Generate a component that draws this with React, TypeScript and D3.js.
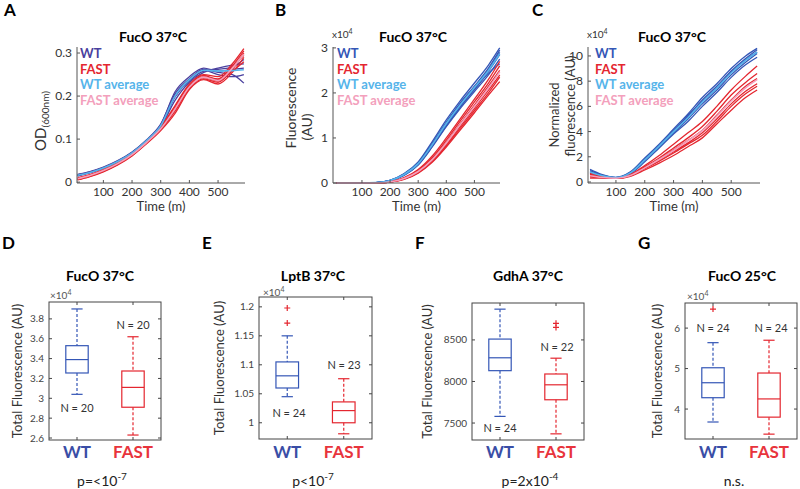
import React from 'react';
import * as d3 from 'd3';

// ---------- data: growth / fluorescence curves (panels A-C) ----------
const timePoints = [10, 50, 100, 150, 200, 250, 300, 350, 400, 450, 500, 550, 590];

// A: OD600
const odWT = [
  [0.016, 0.022, 0.033, 0.048, 0.068, 0.095, 0.130, 0.200, 0.235, 0.258, 0.262, 0.268, 0.285],
  [0.018, 0.024, 0.035, 0.050, 0.070, 0.098, 0.135, 0.205, 0.240, 0.262, 0.255, 0.250, 0.230],
  [0.014, 0.021, 0.032, 0.047, 0.067, 0.094, 0.128, 0.190, 0.232, 0.255, 0.265, 0.272, 0.275],
  [0.017, 0.023, 0.034, 0.049, 0.069, 0.097, 0.133, 0.210, 0.245, 0.265, 0.258, 0.262, 0.265],
  [0.015, 0.022, 0.033, 0.048, 0.068, 0.096, 0.131, 0.198, 0.238, 0.260, 0.250, 0.245, 0.250],
];
const odFAST = [
  [0.008, 0.015, 0.027, 0.043, 0.064, 0.092, 0.125, 0.170, 0.222, 0.245, 0.240, 0.270, 0.305],
  [0.006, 0.013, 0.025, 0.041, 0.062, 0.090, 0.122, 0.165, 0.218, 0.240, 0.232, 0.262, 0.300],
  [0.010, 0.017, 0.029, 0.045, 0.066, 0.094, 0.128, 0.178, 0.228, 0.250, 0.245, 0.275, 0.310],
  [0.005, 0.012, 0.024, 0.040, 0.061, 0.089, 0.120, 0.160, 0.215, 0.238, 0.228, 0.255, 0.290],
  [0.009, 0.016, 0.028, 0.044, 0.065, 0.093, 0.126, 0.175, 0.225, 0.248, 0.238, 0.268, 0.295],
  [0.007, 0.014, 0.026, 0.042, 0.063, 0.091, 0.124, 0.168, 0.220, 0.243, 0.235, 0.258, 0.280],
];
const odWTavg = [0.016, 0.022, 0.033, 0.048, 0.068, 0.096, 0.131, 0.200, 0.238, 0.260, 0.258, 0.259, 0.261];
const odFASTavg = [0.008, 0.015, 0.027, 0.043, 0.064, 0.092, 0.124, 0.170, 0.221, 0.244, 0.236, 0.265, 0.297];

// B: fluorescence (x10^4)
const flWT = [
  [0, 0, 0, 0.01, 0.06, 0.20, 0.45, 0.88, 1.35, 1.78, 2.15, 2.55, 2.95],
  [0, 0, 0, 0.01, 0.05, 0.18, 0.42, 0.84, 1.30, 1.72, 2.10, 2.48, 2.85],
  [0, 0, 0, 0.01, 0.06, 0.21, 0.47, 0.92, 1.40, 1.83, 2.22, 2.62, 3.00],
  [0, 0, 0, 0.01, 0.05, 0.17, 0.40, 0.80, 1.25, 1.66, 2.03, 2.40, 2.75],
  [0, 0, 0, 0.01, 0.06, 0.19, 0.44, 0.86, 1.33, 1.76, 2.13, 2.52, 2.90],
  [0, 0, 0, 0.01, 0.05, 0.18, 0.41, 0.82, 1.27, 1.69, 2.07, 2.44, 2.65],
];
const flFAST = [
  [0, 0, 0, 0, 0.03, 0.11, 0.28, 0.56, 0.95, 1.38, 1.80, 2.22, 2.60],
  [0, 0, 0, 0, 0.02, 0.09, 0.24, 0.50, 0.86, 1.26, 1.66, 2.06, 2.40],
  [0, 0, 0, 0, 0.02, 0.08, 0.22, 0.46, 0.80, 1.18, 1.56, 1.95, 2.25],
  [0, 0, 0, 0, 0.03, 0.12, 0.30, 0.60, 1.00, 1.43, 1.86, 2.30, 2.70],
  [0, 0, 0, 0, 0.02, 0.10, 0.26, 0.53, 0.90, 1.32, 1.73, 2.15, 2.50],
  [0, 0, 0, 0, 0.02, 0.09, 0.23, 0.48, 0.83, 1.22, 1.61, 2.00, 2.35],
];
const flWTavg = [0, 0, 0, 0.01, 0.055, 0.19, 0.43, 0.85, 1.32, 1.74, 2.12, 2.50, 2.87];
const flFASTavg = [0, 0, 0, 0, 0.023, 0.10, 0.255, 0.52, 0.89, 1.30, 1.70, 2.11, 2.47];

// C: normalized fluorescence (x10^4)
const nfWT = [
  [0.9, 0.55, 0.35, 0.75, 1.8, 2.9, 4.1, 5.2, 6.5, 7.6, 8.8, 9.8, 10.5],
  [0.7, 0.5, 0.35, 0.7, 1.7, 2.8, 3.9, 5.0, 6.2, 7.3, 8.5, 9.5, 10.2],
  [1.0, 0.6, 0.36, 0.8, 1.9, 3.0, 4.2, 5.4, 6.7, 7.8, 9.0, 10.0, 10.6],
  [0.6, 0.45, 0.34, 0.65, 1.6, 2.7, 3.8, 4.8, 6.0, 7.1, 8.3, 9.3, 9.9],
  [0.8, 0.52, 0.35, 0.72, 1.75, 2.85, 4.0, 5.3, 6.4, 7.5, 8.7, 9.7, 10.3],
];
const nfFAST = [
  [0.6, 0.4, 0.3, 0.55, 1.2, 1.9, 2.7, 3.5, 4.4, 5.6, 6.9, 7.9, 8.6],
  [0.4, 0.35, 0.3, 0.5, 1.1, 1.7, 2.4, 3.1, 3.9, 5.0, 6.2, 7.2, 7.8],
  [0.7, 0.45, 0.32, 0.6, 1.3, 2.1, 3.0, 3.9, 4.8, 6.0, 7.3, 8.4, 9.2],
  [0.3, 0.3, 0.28, 0.45, 0.95, 1.5, 2.1, 2.8, 3.5, 4.6, 5.7, 6.7, 7.3],
  [0.5, 0.38, 0.3, 0.52, 1.15, 1.8, 2.55, 3.3, 4.1, 5.3, 6.5, 7.6, 8.2],
  [0.45, 0.36, 0.29, 0.5, 1.05, 1.65, 2.3, 3.0, 3.7, 4.8, 6.0, 7.0, 7.6],
];
const nfWTavg = [0.8, 0.52, 0.35, 0.72, 1.75, 2.85, 4.0, 5.1, 6.35, 7.45, 8.65, 9.65, 10.3];
const nfFASTavg = [0.5, 0.37, 0.3, 0.52, 1.12, 1.78, 2.5, 3.27, 4.07, 5.22, 6.43, 7.47, 8.12];

const timeTicks = [100, 200, 300, 400, 500];

// ---------- data: box plots (panels D-G), [low whisker, q1, median, q3, high whisker] ----------
const groups = ['WT', 'FAST'];
const fucO37WT = [3.04, 3.255, 3.39, 3.53, 3.90];
const fucO37FAST = [2.63, 2.91, 3.11, 3.275, 3.62];
const lptBWT = [1.045, 1.06, 1.081, 1.105, 1.15];
const lptBFAST = [0.981, 1.0, 1.021, 1.036, 1.076];
const lptBWTout = [1.172, 1.198];
const gdhAWT = [7580, 8130, 8285, 8510, 8870];
const gdhAFAST = [7370, 7780, 7960, 8090, 8280];
const gdhAFASTout = [8650, 8700];
const fucO25WT = [3.68, 4.28, 4.65, 5.02, 5.64];
const fucO25FAST = [3.38, 3.80, 4.25, 4.89, 5.70];
const fucO25WTout = [6.47];

const FONT = "Lato, 'Open Sans', sans-serif";
const WT_COLOR = '#3456b6';
const WT_A_COLOR = '#4a3f9e';
const FAST_COLOR = '#e4262f';
const WT_AVG = '#56b4ea';
const FAST_AVG = '#f3a0bc';
const WT_LABEL = '#3a4ea6';
const FAST_LABEL = '#e8343c';

const TOP = 47;
const BOTTOM = 183;

type LineProps = {
  letter: string; letterX: number; title: string; titleX: number;
  left: number; right: number; xDomain: [number, number]; yDomain: [number, number];
  yTicks: number[]; wt: number[][]; fast: number[][]; wtAvg: number[]; fastAvg: number[];
  wtColor: string; legendX: number; exp?: boolean; yLabel: React.ReactNode;
};

function LinePanel(p: LineProps) {
  const x = d3.scaleLinear().domain(p.xDomain).range([p.left, p.right]);
  const y = d3.scaleLinear().domain(p.yDomain).range([BOTTOM, TOP]);
  const line = d3.line<number>()
    .x((_, i) => x(timePoints[i]))
    .y((d) => y(d))
    .curve(d3.curveMonotoneX);
  const legend = [
    ['WT', p.wtColor], ['FAST', FAST_COLOR], ['WT average', WT_AVG], ['FAST average', FAST_AVG],
  ];
  return (
    <g fontFamily={FONT}>
      <text x={p.letterX} y={16} fontSize={17} fontWeight="bold">{p.letter}</text>
      <text x={p.titleX} y={42} fontSize={14} fontWeight="bold" textAnchor="middle">{p.title}</text>
      {p.exp && (
        <text x={p.left - 1} y={38} fontSize={10} fill="#333">x10<tspan dy={-4} fontSize={7}>4</tspan></text>
      )}
      {p.wt.map((c, i) => (
        <path key={'w' + i} d={line(c) ?? ''} fill="none" stroke={p.wtColor} strokeWidth={1.3} />
      ))}
      {p.fast.map((c, i) => (
        <path key={'f' + i} d={line(c) ?? ''} fill="none" stroke={FAST_COLOR} strokeWidth={1.3} />
      ))}
      <path d={line(p.wtAvg) ?? ''} fill="none" stroke={WT_AVG} strokeWidth={1.6} />
      <path d={line(p.fastAvg) ?? ''} fill="none" stroke={FAST_AVG} strokeWidth={1.6} />
      {/* axes */}
      <line x1={p.left} x2={p.left} y1={TOP} y2={BOTTOM} stroke="#555" />
      <line x1={p.left} x2={p.right} y1={BOTTOM} y2={BOTTOM} stroke="#555" />
      {p.yTicks.map((t) => (
        <g key={'y' + t}>
          <line x1={p.left} x2={p.left + 3} y1={y(t)} y2={y(t)} stroke="#555" />
          <text x={p.left - 5} y={y(t) + 4} fontSize={12} textAnchor="end" fill="#333">{String(t)}</text>
        </g>
      ))}
      {timeTicks.map((t) => (
        <g key={'x' + t}>
          <line x1={x(t)} x2={x(t)} y1={BOTTOM} y2={BOTTOM - 3} stroke="#555" />
          <text x={x(t)} y={196} fontSize={12} textAnchor="middle" fill="#333">{t}</text>
        </g>
      ))}
      <text x={(p.left + p.right) / 2} y={211} fontSize={13} textAnchor="middle" fill="#333">Time (m)</text>
      {p.yLabel}
      {legend.map(([name, color], i) => (
        <text key={name} x={p.legendX} y={58 + i * 15.5} fontSize={13} fontWeight="bold" fill={color}>{name}</text>
      ))}
    </g>
  );
}

type BoxProps = {
  letter: string; letterX: number; title: string; titleX: number;
  l: number; r: number; t: number; b: number; yDomain: [number, number]; yTicks: number[];
  stats: number[][]; outliers: number[][]; nLabels: [number, number, string][];
  pX: number; pText: React.ReactNode; expX?: number; expY?: number; yLabelX: number;
};

function BoxPanel(p: BoxProps) {
  const x = d3.scaleLinear().domain([0.5, 2.5]).range([p.l, p.r]);
  const y = d3.scaleLinear().domain(p.yDomain).range([p.b, p.t]);
  const colors = [WT_COLOR, FAST_COLOR];
  const half = 0.2;
  const cap = 0.1;
  return (
    <g fontFamily={FONT}>
      <text x={p.letterX} y={249} fontSize={17} fontWeight="bold">{p.letter}</text>
      <text x={p.titleX} y={281} fontSize={14} fontWeight="bold" textAnchor="middle">{p.title}</text>
      {p.expX !== undefined && (
        <text x={p.expX} y={p.expY} fontSize={10} fill="#555">×10<tspan dy={-4} fontSize={7}>4</tspan></text>
      )}
      <rect x={p.l} y={p.t} width={p.r - p.l} height={p.b - p.t} fill="none" stroke="#444" />
      {p.yTicks.map((v) => (
        <g key={v}>
          <line x1={p.l} x2={p.l + 3} y1={y(v)} y2={y(v)} stroke="#444" />
          <line x1={p.r} x2={p.r - 3} y1={y(v)} y2={y(v)} stroke="#444" />
          <text x={p.l - 5} y={y(v) + 3.5} fontSize={10} textAnchor="end" fill="#444">{String(v)}</text>
        </g>
      ))}
      {groups.map((g, i) => {
        const [lo, q1, med, q3, hi] = p.stats[i];
        const cx = x(i + 1);
        const c = colors[i];
        return (
          <g key={g}>
            <line x1={cx} x2={cx} y1={p.t} y2={p.t + 3} stroke="#444" />
            <line x1={cx} x2={cx} y1={p.b} y2={p.b - 3} stroke="#444" />
            <line x1={cx} x2={cx} y1={y(hi)} y2={y(q3)} stroke={c} strokeWidth={1.2} strokeDasharray="3,2" />
            <line x1={cx} x2={cx} y1={y(q1)} y2={y(lo)} stroke={c} strokeWidth={1.2} strokeDasharray="3,2" />
            <line x1={x(i + 1 - cap)} x2={x(i + 1 + cap)} y1={y(hi)} y2={y(hi)} stroke={c} strokeWidth={1.2} />
            <line x1={x(i + 1 - cap)} x2={x(i + 1 + cap)} y1={y(lo)} y2={y(lo)} stroke={c} strokeWidth={1.2} />
            <rect x={x(i + 1 - half)} y={y(q3)} width={x(i + 1 + half) - x(i + 1 - half)} height={y(q1) - y(q3)}
              fill="none" stroke={c} strokeWidth={1.2} />
            <line x1={x(i + 1 - half)} x2={x(i + 1 + half)} y1={y(med)} y2={y(med)} stroke={c} strokeWidth={1.2} />
            {p.outliers[i].map((o, k) => (
              <path key={k} d={`M${cx - 3},${y(o)}H${cx + 3}M${cx},${y(o) - 3}V${y(o) + 3}`}
                stroke={FAST_COLOR} strokeWidth={1.2} />
            ))}
            <text x={cx} y={458} fontSize={17} fontWeight="bold" textAnchor="middle"
              fill={i === 0 ? WT_LABEL : FAST_LABEL}>{g}</text>
          </g>
        );
      })}
      {p.nLabels.map(([nx, ny, s], i) => (
        <text key={i} x={nx} y={ny} fontSize={11} textAnchor="middle" fill="#333">{s}</text>
      ))}
      <text transform={`translate(${p.yLabelX},${(p.t + p.b) / 2}) rotate(-90)`} fontSize={13}
        textAnchor="middle" dy={4} fill="#333">Total Fluorescence (AU)</text>
      <text x={p.pX} y={486} fontSize={14} textAnchor="middle" fill="#222">{p.pText}</text>
    </g>
  );
}

export default function App() {
  return (
    <svg width={800} height={489} style={{ position: 'absolute', left: 0, top: 0, background: '#fff' }}>
      <LinePanel letter="A" letterX={4} title="FucO 37°C" titleX={153} left={77} right={245}
        xDomain={[8, 594]} yDomain={[-0.002, 0.314]} yTicks={[0, 0.1, 0.2, 0.3]}
        wt={odWT} fast={odFAST} wtAvg={odWTavg} fastAvg={odFASTavg} wtColor={WT_A_COLOR} legendX={80}
        yLabel={
          <text transform="translate(41,121) rotate(-90)" fontSize={15} textAnchor="middle" dy={5} fill="#333">
            OD<tspan fontSize={10} dy={3}>(600nm)</tspan>
          </text>
        } />
      <LinePanel letter="B" letterX={275} title="FucO 37°C" titleX={413} left={333} right={500}
        xDomain={[-3, 591]} yDomain={[0, 3.02]} yTicks={[0, 1, 2, 3]}
        wt={flWT} fast={flFAST} wtAvg={flWTavg} fastAvg={flFASTavg} wtColor={WT_COLOR} legendX={337} exp
        yLabel={
          <g fill="#333" fontSize={14} textAnchor="middle">
            <text transform="translate(291,108) rotate(-90)" dy={5}>Fluorescence</text>
            <text transform="translate(307,127) rotate(-90)" dy={5}>(AU)</text>
          </g>
        } />
      <LinePanel letter="C" letterX={532} title="FucO 37°C" titleX={672} left={588} right={760}
        xDomain={[3, 600]} yDomain={[-0.08, 10.71]} yTicks={[0, 2, 4, 6, 8, 10]}
        wt={nfWT} fast={nfFAST} wtAvg={nfWTavg} fastAvg={nfFASTavg} wtColor={WT_COLOR} legendX={595} exp
        yLabel={
          <g fill="#333" fontSize={13} textAnchor="middle">
            <text transform="translate(555,115) rotate(-90)" dy={4}>Normalized</text>
            <text transform="translate(571,106) rotate(-90)" dy={4}>fluorescence  (AU)</text>
          </g>
        } />

      <BoxPanel letter="D" letterX={2} title="FucO 37°C" titleX={100} l={49} r={161} t={302} b={440}
        yDomain={[2.58, 3.97]} yTicks={[2.6, 2.8, 3, 3.2, 3.4, 3.6, 3.8]}
        stats={[fucO37WT, fucO37FAST]} outliers={[[], []]}
        nLabels={[[77, 412, 'N = 20'], [133, 329, 'N = 20']]}
        pX={102} pText={<>p=&lt;10<tspan dy={-6} fontSize={10}>-7</tspan></>}
        expX={50} expY={299} yLabelX={18} />
      <BoxPanel letter="E" letterX={202} title="LptB 37°C" titleX={313} l={259} r={372} t={297} b={439}
        yDomain={[0.972, 1.217]} yTicks={[1, 1.05, 1.1, 1.15, 1.2]}
        stats={[lptBWT, lptBFAST]} outliers={[lptBWTout, []]}
        nLabels={[[289, 417, 'N = 24'], [344, 369, 'N = 23']]}
        pX={313} pText={<>p&lt;10<tspan dy={-6} fontSize={10}>-7</tspan></>}
        expX={263} expY={296} yLabelX={220} />
      <BoxPanel letter="F" letterX={415} title="GdhA 37°C" titleX={528} l={472} r={584} t={303} b={440}
        yDomain={[7296, 8944]} yTicks={[7500, 8000, 8500]}
        stats={[gdhAWT, gdhAFAST]} outliers={[[], gdhAFASTout]}
        nLabels={[[500, 432, 'N = 24'], [557, 351, 'N = 22']]}
        pX={530} pText={<>p=2x10<tspan dy={-6} fontSize={10}>-4</tspan></>}
        yLabelX={428} />
      <BoxPanel letter="G" letterX={638} title="FucO 25°C" titleX={742} l={685} r={797} t={303} b={439}
        yDomain={[3.26, 6.62]} yTicks={[4, 5, 6]}
        stats={[fucO25WT, fucO25FAST]} outliers={[fucO25WTout, []]}
        nLabels={[[713, 332, 'N = 24'], [771, 332, 'N = 24']]}
        pX={734} pText="n.s."
        expX={687} expY={300} yLabelX={658} />
    </svg>
  );
}
